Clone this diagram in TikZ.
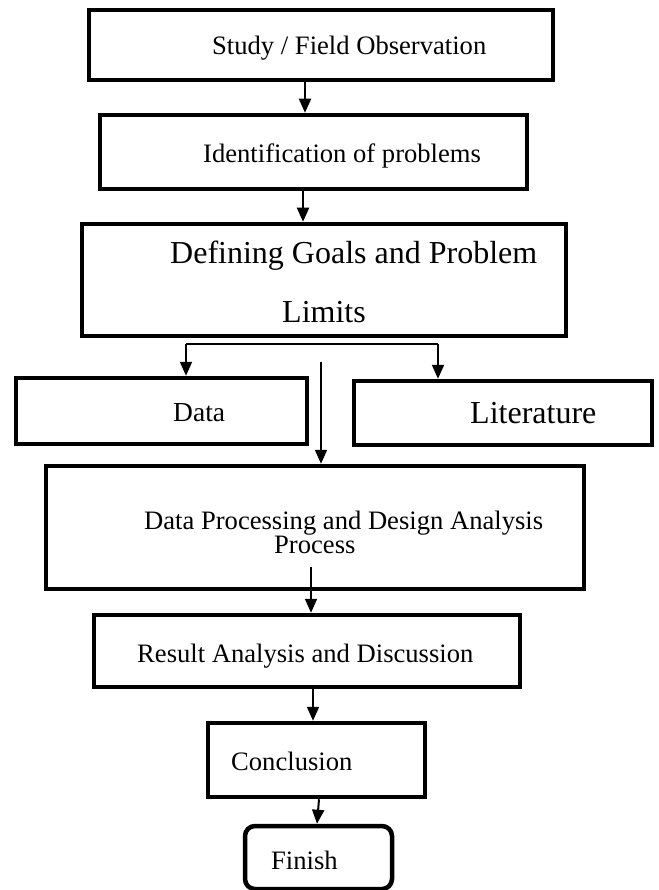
\documentclass[tikz,border=0pt]{standalone}
\usepackage{fontspec}
\setmainfont{Liberation Serif}
\usetikzlibrary{arrows.meta}
\begin{document}
\begin{tikzpicture}[x=1pt,y=1pt,
 box/.style={draw=black, line width=4.5pt, rectangle, inner sep=0pt},
 lbl/.style={anchor=base west, inner sep=0pt, font=\fontsize{26.6}{30}\selectfont},
 biglbl/.style={anchor=base west, inner sep=0pt, font=\fontsize{32}{36}\selectfont},
 arr/.style={line width=2pt, -{Triangle[width=12pt,length=14pt]}},
 thinline/.style={line width=1.5pt},
]
\useasboundingbox (0,0) rectangle (658,-890);

% boxes
\node[box, minimum width=464pt, minimum height=70pt] (b1) at (321,-45) {};
\node[box, minimum width=427pt, minimum height=74pt] (b2) at (313.5,-152) {};
\node[box, minimum width=484pt, minimum height=112pt] (b3) at (324,-280) {};
\node[box, minimum width=291pt, minimum height=66pt] (data) at (161.5,-411) {};
\node[box, minimum width=298pt, minimum height=64pt] (lit) at (503,-413) {};
\node[box, minimum width=538pt, minimum height=123pt] (b5) at (315,-527.5) {};
\node[box, minimum width=426pt, minimum height=72pt] (b6) at (307,-651) {};
\node[box, minimum width=217pt, minimum height=74pt] (b7) at (316.5,-760) {};
\node[box, rounded corners=10pt, minimum width=147pt, minimum height=63pt] (fin) at (318.5,-857.5) {};

% texts
\node[lbl] (t1) at (212,-55) {Study / Field Observation};
\node[lbl] (t2) at (203,-163) {Identification of problems};
\node[biglbl] (t3a) at (170,-263) {Defining Goals and Problem};
\node[biglbl] (t3b) at (282,-322) {Limits};
\node[lbl, font=\fontsize{27.5}{30}\selectfont] (tdata) at (173,-421) {Data};
\node[biglbl] (tlit) at (470,-423) {Literature};
\node[anchor=north west, inner sep=0pt, align=left,
      font=\fontsize{26.6}{23}\selectfont] (t5) at (144,-511)
  {Data Processing and Design Analysis\\\hspace*{130pt}Process};
\node[lbl] (t6) at (137,-662) {Result Analysis and Discussion};
\node[lbl] (t7) at (231,-770) {Conclusion};
\node[lbl] (tfin) at (271,-869) {Finish};

% connectors
\draw[arr] ([xshift=-16pt]b1.south) -- ([xshift=-16pt]b1.south |- b2.north);
\draw[arr] ([xshift=-10.5pt]b2.south) -- ([xshift=-10.5pt]b2.south |- b3.north);

\coordinate (brL) at (186,-344);
\coordinate (brR) at (438,-344);
\draw[thinline] (brL) -- (brR);
\draw[arr] (brL) -- (brL |- data.north);
\draw[arr] (brR) -- (brR |- lit.north);

\coordinate (vtop) at (321,-362);
\draw[arr] (vtop) -- (vtop |- b5.north);

\coordinate (a5) at (311,-567);
\draw[arr] (a5) -- (a5 |- b6.north);

\draw[arr] ([xshift=6pt]b6.south) -- ([xshift=6pt]b6.south |- b7.north);
\draw[arr] ([xshift=2.5pt]b7.south) -- ([xshift=-1.5pt]fin.north);
\end{tikzpicture}
\end{document}
